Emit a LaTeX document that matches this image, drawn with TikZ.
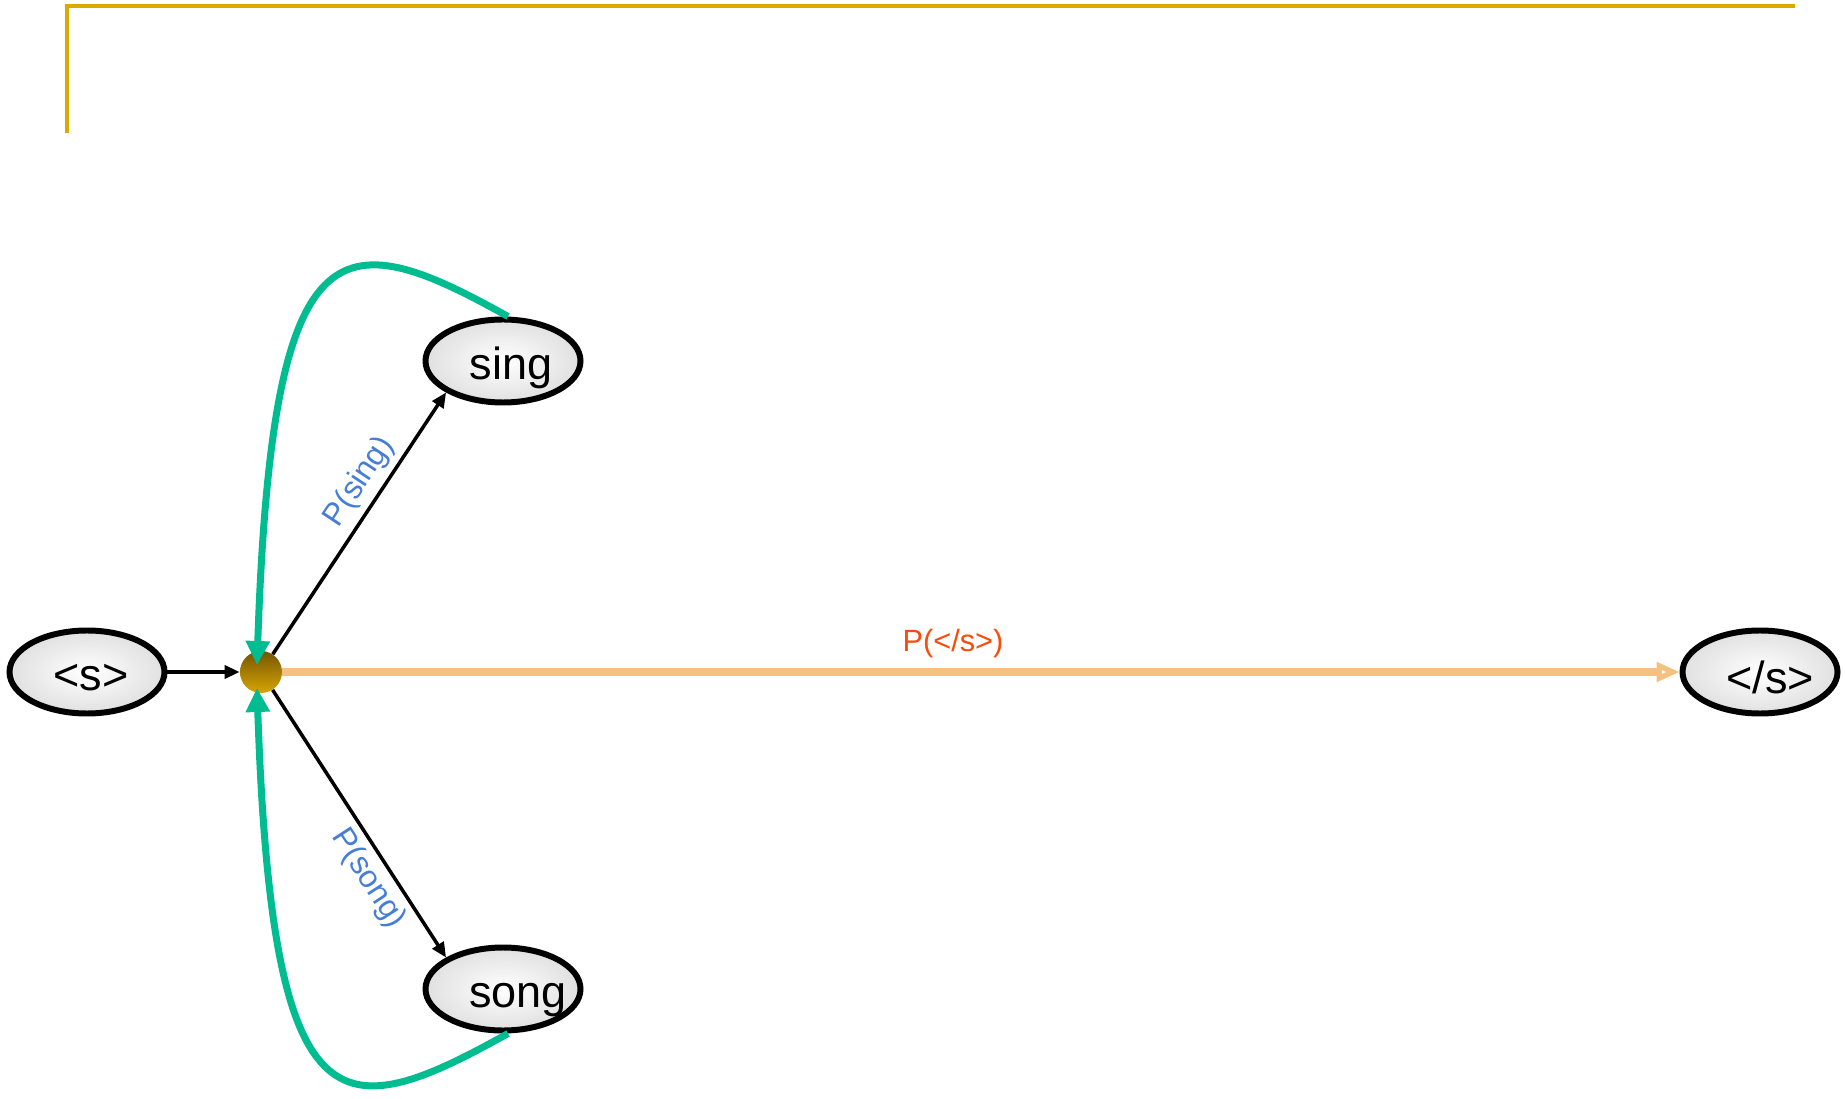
\documentclass[tikz,border=0pt]{standalone}
\usepackage{fontspec}
\setmainfont{Liberation Sans}
\usetikzlibrary{shapes.geometric,arrows.meta}
\definecolor{framegold}{RGB}{218,170,0}
\definecolor{loopgreen}{RGB}{0,188,145}
\definecolor{stopline}{RGB}{245,193,128}
\definecolor{stoplabel}{RGB}{250,75,10}
\definecolor{problue}{RGB}{70,125,215}
\definecolor{hubdark}{RGB}{115,85,5}
\definecolor{hublight}{RGB}{215,165,0}

\begin{document}
\begin{tikzpicture}[
	word/.style={ellipse, draw=black, line width=3.4pt, minimum width=3.1cm, minimum height=1.66cm, inner color=white, outer color=black!12},
	wordtext/.style={font=\fontsize{25.6}{30}\selectfont},
	hubdot/.style={circle, minimum size=0.84cm, inner sep=0pt, top color=hubdark, bottom color=hublight},
	prob/.style={font=\fontsize{18}{21}\selectfont, text=problue, sloped, inner sep=3.5pt},
	stoptext/.style={font=\fontsize{17.5}{21}\selectfont, text=stoplabel, inner sep=3.5pt},
	edge/.style={draw=black, line width=2pt, -{Triangle[length=0.3cm,width=0.26cm]}},
	backedge/.style={draw=loopgreen, line width=0.14cm, -{Triangle[length=0.48cm,width=0.46cm]}},
	stopedge/.style={draw=stopline, line width=0.17cm, -{Triangle[open,fill=white,length=0.46cm,width=0.38cm,line width=3pt]}}
]
	\useasboundingbox (0,0) rectangle (36.9,21.96);
	\draw[framegold, line width=0.08cm] (1.34,19.3) |- (35.9,21.84);

	\node[word, label={[wordtext,xshift=0.08cm,yshift=-0.11cm]center:<s>}] (start) at (1.74,8.52) {};
	\node[hubdot] (hub) at (5.22,8.52) {};
	\node[word, label={[wordtext,xshift=0.16cm,yshift=-0.14cm]center:sing}] (sing) at (10.06,14.74) {};
	\node[word, label={[wordtext,xshift=0.3cm,yshift=-0.22cm]center:song}] (song) at (10.06,2.18) {};
	\node[word, label={[wordtext,xshift=0.2cm,yshift=-0.1cm]center:</s>}] (stop) at (35.2,8.52) {};

	\draw[backedge] ([xshift=0.1cm]sing.north) .. controls +(-3.4,1.9) and +(0.3,8.9) .. ([xshift=-0.08cm,yshift=0.14cm]hub.center);
	\draw[backedge] ([xshift=0.1cm]song.south) .. controls +(-3.4,-1.9) and +(0.3,-8.9) .. ([xshift=-0.08cm,yshift=-0.32cm]hub.center);

	\draw[edge] (start) -- (hub);
	\draw[edge] (hub) -- (sing.south west) node[prob, above, pos=0.61]{P(sing)};
	\draw[edge] (hub) -- (song.north west) node[prob, below, pos=0.66]{P(song)};
	\draw[stopedge] (hub) -- (stop) node[stoptext, above=2pt, pos=0.48]{P(</s>)};
\end{tikzpicture}
\end{document}
